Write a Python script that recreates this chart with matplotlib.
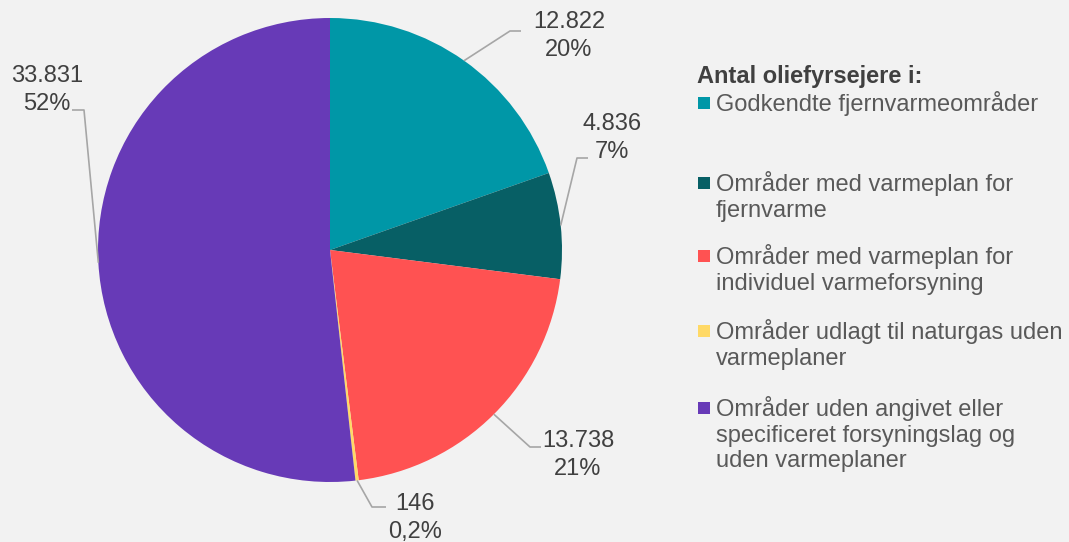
import matplotlib.pyplot as plt
import numpy as np
from matplotlib.patches import Rectangle

plt.rcParams['font.family'] = ['Liberation Sans', 'DejaVu Sans']

# data
kategorier = ['Godkendte fjernvarmeområder',
              'Områder med varmeplan for\nfjernvarme',
              'Områder med varmeplan for\nindividuel varmeforsyning',
              'Områder udlagt til naturgas uden\nvarmeplaner',
              'Områder uden angivet eller\nspecificeret forsyningslag og\nuden varmeplaner']
antal = [12822, 4836, 13738, 146, 33831]
farver = ['#0097A7', '#075F65', '#FF5252', '#FFD966', '#673AB7']
titel = 'Antal oliefyrsejere i:'

W, H = 1069, 542
fig = plt.figure(figsize=(W / 100, H / 100), dpi=100, facecolor='#F2F2F2')
ax = fig.add_axes([0, 0, 1, 1])
ax.set_facecolor('#F2F2F2')

cx, cy, r = 330, H - 250, 232
wedges, _ = ax.pie(antal, colors=farver, startangle=90, counterclock=False,
                   center=(cx, cy), radius=r, wedgeprops=dict(linewidth=0))
ax.set_xlim(0, W)
ax.set_ylim(0, H)
ax.set_aspect('equal')
ax.axis('off')

# label placement (image pixel coords): elbow point, line end, text center
knæk = [(510, 31), (577, 158), (530, 447), (372, 507), (84, 110)]
ende = [(521, 31), (588, 158), (541, 447), (386, 507), (72, 110)]
tekst_pos = [(569, 36), (612, 138), (578, 455), (415, 518), (47, 90)]

total = sum(antal)
for w, v, k, e, tp in zip(wedges, antal, knæk, ende, tekst_pos):
    mid = np.deg2rad((w.theta1 + w.theta2) / 2)
    sx, sy = cx + r * np.cos(mid), cy + r * np.sin(mid)
    ax.plot([sx, k[0], e[0]], [sy, H - k[1], H - e[1]], color='#A6A6A6', lw=1.2,
            solid_capstyle='butt')
    pct = v / total * 100
    pct_txt = f'{pct:.1f}'.replace('.', ',') if pct < 1 else f'{pct:.0f}'
    num_txt = f'{v:,}'.replace(',', '.')
    ax.text(tp[0], H - tp[1], f'{num_txt}\n{pct_txt}%', ha='center', va='center',
            fontsize=17, color='#404040', linespacing=1.32)

# legend drawn by hand
ax.text(697, H - 76, titel, ha='left', va='center', fontsize=17,
        fontweight='bold', color='#404040')
leg_mid = [103, 183, 256, 331, 408]
for navn, f, y in zip(kategorier, farver, leg_mid):
    ax.add_patch(Rectangle((698, H - y - 6), 12, 12, color=f, lw=0))
    ax.text(716, H - (y - 12), navn, ha='left', va='top', fontsize=17,
            color='#595959', linespacing=1.22)

fig.savefig('out.png', dpi=100, facecolor=fig.get_facecolor())
